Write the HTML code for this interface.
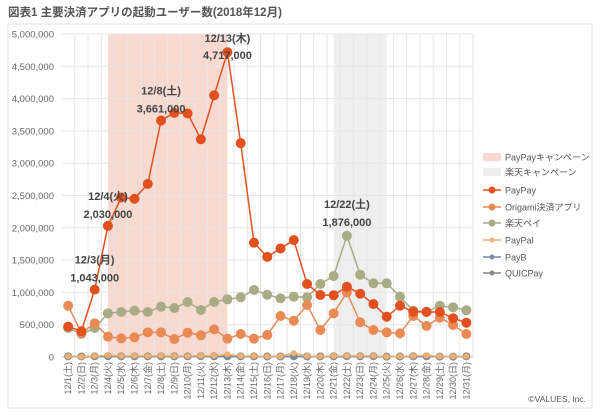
<!DOCTYPE html>
<html><head><meta charset="utf-8"><style>
body{margin:0;background:#fff;font-family:"Liberation Sans","Noto Sans CJK JP",sans-serif}
</style></head><body>
<svg id="c" width="600" height="413" xmlns="http://www.w3.org/2000/svg" font-family="Liberation Sans, Noto Sans CJK JP, sans-serif"></svg>
<script>
const days=["12/1(土)","12/2(日)","12/3(月)","12/4(火)","12/5(水)","12/6(木)","12/7(金)","12/8(土)","12/9(日)","12/10(月)","12/11(火)","12/12(水)","12/13(木)","12/14(金)","12/15(土)","12/16(日)","12/17(月)","12/18(火)","12/19(水)","12/20(木)","12/21(金)","12/22(土)","12/23(日)","12/24(月)","12/25(火)","12/26(水)","12/27(木)","12/28(金)","12/29(土)","12/30(日)","12/31(月)"];
const paypay=[470000,400000,1043000,2030000,2470000,2450000,2680000,3661000,3780000,3770000,3370000,4050000,4717000,3310000,1770000,1550000,1680000,1810000,1130000,960000,955000,1088000,980000,820000,624000,794000,700000,697000,697000,600000,531000];
const origami=[794000,370000,521000,315000,289000,305000,382000,382000,278000,376000,336000,428000,284000,356000,284000,340000,635000,562000,805000,418000,676000,1000000,537000,418000,382000,366000,635000,480000,608000,495000,356000];
const rakuten=[449000,356000,449000,676000,697000,717000,697000,779000,758000,851000,728000,851000,893000,924000,1037000,964000,908000,934000,924000,1130000,1254000,1876000,1274000,1141000,1141000,934000,717000,700000,794000,769000,723000];
const paypal=[10000,5000,15000,25000,15000,20000,15000,20000,15000,15000,20000,20000,40000,15000,15000,10000,10000,60000,15000,10000,15000,20000,15000,20000,5000,10000,15000,25000,10000,10000,10000];
const payb=[5000,5000,5000,5000,5000,5000,5000,5000,5000,5000,5000,5000,5000,5000,5000,5000,5000,5000,5000,5000,5000,5000,5000,5000,5000,5000,5000,5000,5000,5000,5000];
const quic=[10000,8000,10000,12000,10000,10000,10000,10000,10000,10000,12000,10000,10000,10000,10000,8000,8000,10000,8000,10000,10000,12000,10000,12000,5000,8000,10000,10000,5000,5000,10000];
const yTicks=[0,500000,1000000,1500000,2000000,2500000,3000000,3500000,4000000,4500000,5000000];
const notes=[[2,"12/3(月)","1,043,000"],[3,"12/4(火)","2,030,000"],[7,"12/8(土)","3,661,000"]];
const NS="http://www.w3.org/2000/svg";const svg=document.getElementById('c');
function el(t,a,txt){const e=document.createElementNS(NS,t);for(const k in a)e.setAttribute(k,a[k]);if(txt!=null)e.textContent=txt;svg.appendChild(e);return e;}
const X0=61.5,X1=473,Y0=357,Y1=34;const step=(X1-X0)/days.length;
const x=i=>X0+step*(i+0.5);const y=v=>Y0-(v/5000000)*(Y0-Y1);
let e;
e=el('rect',{x:8,y:24,width:584,height:384,fill:'none',stroke:'#e3e3e3'});

e=el('text',{x:8,y:16,'font-size':11.5,'font-weight':'bold',fill:'#555'},'図表1 主要決済アプリの起動ユーザー数(2018年12月)');

e=el('rect',{x:x(3),y:Y1,width:x(12)-x(3),height:Y0-Y1,fill:'#f8d9cf'});

e=el('rect',{x:x(20),y:Y1,width:x(24)-x(20),height:Y0-Y1,fill:'#efefef'});

yTicks.forEach(v=>{e=el('line',{x1:X0,x2:X1,y1:y(v),y2:y(v),stroke:'#e6e6e6'});

e=el('text',{x:54,y:y(v)+3.5,'font-size':9.5,fill:'#666','text-anchor':'end'},v.toLocaleString('en-US'));
});
days.forEach((d,i)=>{const gx=X0+step*(i+1);e=el('line',{x1:gx,x2:gx,y1:Y1,y2:Y0,stroke:'#e6e6e6'});

e=el('text',{x:0,y:0,'font-size':9,fill:'#666','text-anchor':'end',transform:`translate(${x(i)+3},${Y0+5}) rotate(-90)`},d);
});
e=el('line',{x1:X0,x2:X1,y1:Y0,y2:Y0,stroke:'#bbb'});
const series=[[quic,'#888888',4,'quicpay'],[payb,'#7a8aa0',3,'payb'],[paypal,'#f0b070',3,'paypal'],[rakuten,'#a8ab84',5,'rakuten-pay'],[origami,'#e98a55',5,'origami'],[paypay,'#e2501f',5,'paypay']];
series.forEach(([d,c,r,n])=>{e=el('polyline',{points:d.map((v,i)=>x(i)+','+y(v)).join(' '),fill:'none',stroke:c,'stroke-width':1.5});

d.forEach((v,i)=>{e=el('circle',{cx:x(i),cy:y(v),r:r,fill:c});
});});
notes.forEach(([i,a,b])=>{const base=y(paypay[i]);
e=el('text',{x:x(i),y:base-26,'font-size':11,'font-weight':'bold',fill:'#444','text-anchor':'middle'},a);

e=el('text',{x:x(i),y:base-8,'font-size':11,'font-weight':'bold',fill:'#444','text-anchor':'middle'},b);
});
e=el('text',{x:x(12),y:42,'font-size':11,'font-weight':'bold',fill:'#444','text-anchor':'middle'},'12/13(木)');

e=el('text',{x:x(12),y:59,'font-size':11,'font-weight':'bold',fill:'#444','text-anchor':'middle'},'4,717,000');

e=el('text',{x:x(21),y:y(rakuten[21])-28,'font-size':11,'font-weight':'bold',fill:'#444','text-anchor':'middle'},'12/22(土)');

e=el('text',{x:x(21),y:y(rakuten[21])-10,'font-size':11,'font-weight':'bold',fill:'#444','text-anchor':'middle'},'1,876,000');

const leg=[['band','#f8d9cf','PayPayキャンペーン'],['band','#eeeeee','楽天キャンペーン'],['line','#e2501f','PayPay'],['line','#e98a55','Origami決済アプリ'],['line','#a8ab84','楽天ペイ'],['line','#f0b070','PayPal'],['line','#7a8aa0','PayB'],['line','#888888','QUICPay']];
const ly=[157,172,190,207,223,240,257,273];
leg.forEach(([t,c,n],k)=>{const yy=ly[k];
if(t=='band'){e=el('rect',{x:483,y:yy-4,width:18,height:8,fill:c});}else{e=el('line',{x1:483,x2:501,y1:yy,y2:yy,stroke:c,'stroke-width':1.5});el('circle',{cx:492,cy:yy,r:k>4?2.5:3.5,fill:c});}

e=el('text',{x:505,y:yy+3.5,'font-size':9,fill:'#555'},n);
});
e=el('text',{x:586,y:402,'font-size':8.5,fill:'#555','text-anchor':'end'},'©VALUES, Inc.');

</script>
</body></html>
